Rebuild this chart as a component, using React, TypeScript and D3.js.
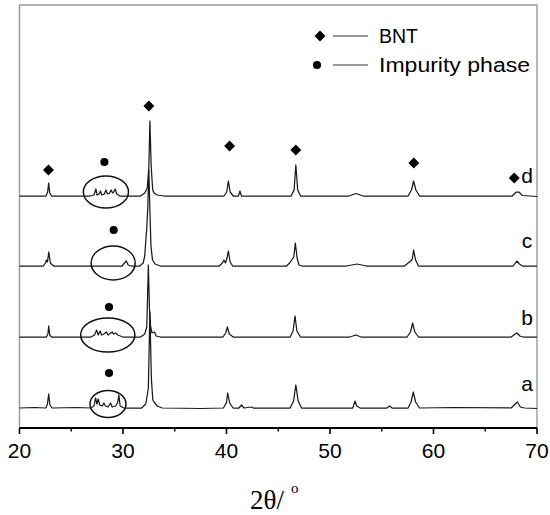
import React from "react";
import * as d3 from "d3";

// 2θ (degrees) vs intensity (a.u., each pattern offset vertically)
const samples = ["a", "b", "c", "d"];
const offsets = [20, 91, 162, 232];

const patternA: [number, number][] = [
  [20, 0], [21.5, 0.5], [22.55, 0], [22.7, 4], [22.82, 14], [22.94, 3], [23.15, 0],
  [25.5, 0.5], [26.9, 0], [27.2, 2], [27.35, 10], [27.48, 4], [27.6, 9], [27.75, 3], [28.0, 2], [28.15, 5], [28.3, 2],
  [28.55, 1], [28.8, 5], [28.95, 1], [29.3, 2], [29.5, 6], [29.6, 13], [29.72, 2], [30.1, 0],
  [31.8, 0], [32.2, 4], [32.45, 20], [32.6, 96], [32.74, 30], [32.88, 8], [33.0, 6], [33.3, 2], [33.8, 0],
  [37.5, -0.5], [39.7, 0], [39.98, 5], [40.12, 15], [40.3, 5], [40.65, 0],
  [41.2, 0], [41.45, 3], [41.7, 0], [42.4, 1], [42.6, 0],
  [46.15, 0], [46.48, 7], [46.7, 23], [46.92, 7], [47.25, 0],
  [52.2, 0], [52.42, 7], [52.58, 2], [52.9, 0],
  [55.5, 0], [55.75, 2], [56.0, 0],
  [57.55, 0], [57.83, 6], [58.05, 16], [58.27, 6], [58.65, 0],
  [62.0, 0.5], [67.5, 0], [67.9, 4], [68.1, 6], [68.4, 1], [68.8, 0], [70, -0.5],
];

const patternB: [number, number][] = [
  [20, 0], [22.6, 0], [22.75, 3], [22.82, 11], [22.92, 2], [23.1, 0],
  [26.9, 0], [27.25, 2], [27.45, 7], [27.6, 2], [27.8, 6], [27.92, 2], [28.15, 3], [28.4, 5], [28.55, 2],
  [28.8, 4], [28.95, 5], [29.1, 3], [29.3, 4], [29.5, 2], [30.0, 0],
  [31.7, 0], [32.1, 3], [32.3, 10], [32.45, 72], [32.55, 30], [32.65, 12], [32.8, 4], [33.05, 5], [33.2, 1], [33.6, 0],
  [39.65, 0], [39.93, 4], [40.08, 10], [40.27, 3], [40.65, 0],
  [46.15, 0], [46.43, 6], [46.62, 21], [46.8, 6], [47.15, 0],
  [51.9, 0], [52.5, 2], [53.0, 0],
  [57.45, 0], [57.78, 5], [57.98, 14], [58.2, 5], [58.55, 0],
  [67.5, 0], [67.9, 3], [68.05, 4], [68.35, 1], [68.7, 0], [70, 0],
];

const patternC: [number, number][] = [
  [20, 0], [22.3, 0], [22.5, 3], [22.6, 6], [22.7, 4], [22.83, 14], [22.98, 3], [23.3, 0],
  [29.9, 0], [30.15, 3], [30.32, 5], [30.5, 1], [30.8, 0],
  [31.6, 0], [31.95, 3], [32.1, 10], [32.2, 25], [32.3, 38], [32.4, 60], [32.5, 96], [32.6, 55], [32.7, 20], [32.85, 6], [33.1, 2], [33.6, 0],
  [39.3, 0], [39.6, 3], [39.75, 6], [39.9, 3], [40.05, 8], [40.18, 15], [40.35, 4], [40.6, 0],
  [45.8, 0], [46.1, 3], [46.3, 6], [46.5, 9], [46.65, 23], [46.82, 8], [47.0, 1], [47.3, 0],
  [51.6, 0], [52.6, 2], [53.5, 0],
  [57.2, 0], [57.55, 3], [57.8, 5], [57.95, 7], [58.08, 16], [58.27, 6], [58.55, 0],
  [67.7, 0], [68.05, 5], [68.3, 2], [68.6, 0], [70, 0],
];

const patternD: [number, number][] = [
  [20, 0], [22.55, 0], [22.72, 4], [22.82, 13], [22.92, 3], [23.1, 0],
  [26.8, 0], [27.2, 1], [27.38, 7], [27.5, 1], [27.7, 2], [27.82, 5], [27.95, 1], [28.2, 2], [28.35, 6], [28.5, 2],
  [28.7, 3], [28.85, 6], [29.0, 3], [29.1, 4], [29.25, 7], [29.4, 2], [29.7, 0],
  [31.7, 0], [32.1, 3], [32.35, 8], [32.5, 30], [32.6, 75], [32.72, 30], [32.87, 6], [33.0, 3], [33.3, 1], [34, 0],
  [39.75, 0], [40.02, 4], [40.18, 15], [40.35, 4], [40.65, 0],
  [41.15, 0], [41.3, 5], [41.45, 0],
  [46.25, 0], [46.53, 6], [46.7, 31], [46.88, 6], [47.15, 0],
  [51.8, 0], [52.5, 2.5], [53.2, 0],
  [57.55, 0], [57.87, 6], [58.08, 15], [58.3, 6], [58.65, 0],
  [67.6, 0], [68.0, 4], [68.25, 4], [68.6, 0.5], [70, -0.5],
];

const patterns = [patternA, patternB, patternC, patternD];

// BNT peak markers (2θ, a.u.)
const bntMarkers: [number, number][] = [
  [22.8, 258], [32.5, 322], [40.3, 282], [46.7, 278], [58.1, 265], [67.8, 250],
];
// Impurity phase markers (2θ, a.u.)
const impurityMarkers: [number, number][] = [
  [28.2, 266], [29.1, 198], [28.65, 121], [28.65, 55],
];
// Circled impurity regions: centre 2θ, centre a.u., half-width (deg), half-height (a.u.)
const circleCenterX = [28.55, 28.53, 29.05, 28.35];
const circleCenterY = [24, 93, 165, 236];
const circleRx = [1.74, 2.62, 2.13, 2.18];
const circleRy = [13.5, 17, 17, 16];

const xTicks = [20, 30, 40, 50, 60, 70];
const xMinorTicks = [25, 35, 45, 55, 65];
const labelY = [45, 111, 188, 253];

const legendItems = ["BNT", "Impurity phase"];

export default function App() {
  const W = 550, H = 515;
  const x = d3.scaleLinear().domain([20, 70]).range([19.5, 537]);
  const y = d3.scaleLinear().domain([0, 423]).range([428, 5]);
  const line = d3.line<[number, number]>().x((d) => x(d[0])).y((d) => y(d[1]));

  const diamond = d3.symbol().type(d3.symbolSquare).size(60)();
  const dot = d3.symbol().type(d3.symbolCircle).size(52)();
  const sans = "'Liberation Sans', Arial, sans-serif";

  return (
    <svg width={W} height={H} style={{ position: "absolute", left: 0, top: 0 }}>
      <rect x={0} y={0} width={W} height={H} fill="#fff" />
      {/* frame */}
      <path d={`M${x(20)},${y(0)}V${y(423)}H${x(70)}V${y(0)}`} fill="none" stroke="#9a9a9a" strokeWidth={1.4} />
      {/* patterns */}
      {patterns.map((p, i) => (
        <path
          key={samples[i]}
          d={line(p.map(([a, b]) => [a, b + offsets[i]] as [number, number])) || ""}
          fill="none"
          stroke="#1a1a1a"
          strokeWidth={1.25}
          strokeLinejoin="round"
        />
      ))}
      {/* ellipses */}
      {samples.map((s, i) => (
        <ellipse
          key={"e" + s}
          cx={x(circleCenterX[i])}
          cy={y(circleCenterY[i])}
          rx={x(20 + circleRx[i]) - x(20)}
          ry={y(0) - y(circleRy[i])}
          fill="none"
          stroke="#111"
          strokeWidth={1.5}
        />
      ))}
      {/* markers */}
      {bntMarkers.map(([a, b], i) => (
        <path key={"bm" + i} d={diamond || ""} transform={`translate(${x(a)},${y(b)}) rotate(45)`} fill="#000" />
      ))}
      {impurityMarkers.map(([a, b], i) => (
        <path key={"im" + i} d={dot || ""} transform={`translate(${x(a)},${y(b)})`} fill="#000" />
      ))}
      {/* sample labels */}
      {samples.map((s, i) => (
        <text key={"l" + s} x={527} y={y(labelY[i]) + 7.5} textAnchor="middle" fontFamily={sans} fontSize={21} fill="#000">
          {s}
        </text>
      ))}
      {/* x axis */}
      <line x1={x(20)} x2={x(70)} y1={y(0)} y2={y(0)} stroke="#000" strokeWidth={2} />
      {xTicks.map((t) => (
        <g key={"t" + t}>
          <line x1={x(t)} x2={x(t)} y1={y(0)} y2={y(0) + 6} stroke="#000" strokeWidth={1.6} />
          <text x={x(t)} y={458} textAnchor="middle" fontFamily={sans} fontSize={21} fill="#000">
            {t}
          </text>
        </g>
      ))}
      {xMinorTicks.map((t) => (
        <line key={"m" + t} x1={x(t)} x2={x(t)} y1={y(0)} y2={y(0) + 3.5} stroke="#000" strokeWidth={1.4} />
      ))}
      <text x={250} y={509} fontFamily="'Liberation Serif', 'Times New Roman', serif" fontSize={27} fill="#000">
        2θ/
        <tspan dx={7} dy={-16} fontSize={15}>o</tspan>
      </text>
      {/* legend */}
      {legendItems.map((name, i) => {
        const cy = i === 0 ? 36 : 65;
        return (
          <g key={name}>
            <path d={(i === 0 ? diamond : dot) || ""} transform={`translate(${i === 0 ? 320 : 317},${cy})${i === 0 ? " rotate(45)" : ""}`} fill="#000" />
            <line x1={333} x2={368} y1={cy} y2={cy} stroke="#333" strokeWidth={1} />
            <text x={379} y={cy + 7} fontFamily={sans} fontSize={20} fill="#000" textLength={i === 0 ? 39 : 151} lengthAdjust="spacingAndGlyphs">
              {name}
            </text>
          </g>
        );
      })}
    </svg>
  );
}
